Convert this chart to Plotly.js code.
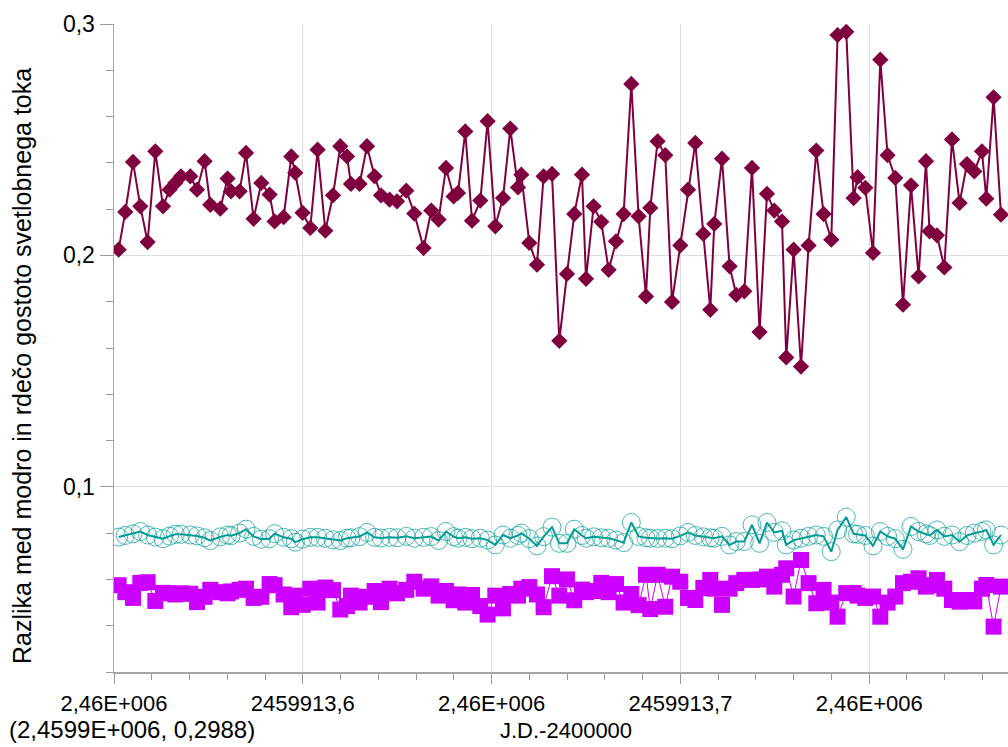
<!DOCTYPE html>
<html>
<head>
<meta charset="utf-8">
<script src="https://cdn.plot.ly/plotly-3.0.1.min.js"></script>
<style>
  html, body { margin: 0; padding: 0; background: #ffffff; }
  #chart { width: 1008px; height: 747px; }
</style>
</head>
<body>
<div id="chart"></div>
<script>
// Observation times (J.D.)
const jd = [
  2459913.55122, 2459913.55299, 2459913.55503, 2459913.55697, 2459913.55890, 2459913.56094,
  2459913.56298, 2459913.56472, 2459913.56623, 2459913.56774, 2459913.57021, 2459913.57198,
  2459913.57399, 2459913.57550, 2459913.57815, 2459913.58008, 2459913.58099, 2459913.58326,
  2459913.58496, 2459913.58697, 2459913.58901, 2459913.59121, 2459913.59253, 2459913.59492,
  2459913.59695, 2459913.59801, 2459913.59995, 2459913.60199, 2459913.60392, 2459913.60596,
  2459913.60800, 2459913.60993, 2459913.61171, 2459913.61276, 2459913.61504, 2459913.61700,
  2459913.61901, 2459913.62071, 2459913.62299, 2459913.62495, 2459913.62741, 2459913.62953,
  2459913.63199, 2459913.63403, 2459913.63596, 2459913.63792, 2459913.63994, 2459913.64110,
  2459913.64303, 2459913.64481, 2459913.64701, 2459913.64894, 2459913.65098, 2459913.65302,
  2459913.65495, 2459913.65699, 2459913.65787, 2459913.65999, 2459913.66202, 2459913.66377,
  2459913.66600, 2459913.66793, 2459913.66997, 2459913.67190, 2459913.67394, 2459913.67500,
  2459913.67701, 2459913.67905, 2459913.68099, 2459913.68294, 2459913.68496, 2459913.68700,
  2459913.68893, 2459913.69089, 2459913.69203, 2459913.69396, 2459913.69600, 2459913.69778,
  2459913.69997, 2459913.70201, 2459913.70395, 2459913.70607, 2459913.70792, 2459913.70898,
  2459913.71102, 2459913.71303, 2459913.71480, 2459913.71692, 2459913.71896, 2459913.72097,
  2459913.72293, 2459913.72487, 2459913.72691, 2459913.72804, 2459913.72998, 2459913.73194,
  2459913.73395, 2459913.73599, 2459913.73792, 2459913.73996, 2459913.74163, 2459913.74393,
  2459913.74587, 2459913.74693, 2459913.74897, 2459913.75101, 2459913.75294, 2459913.75487,
  2459913.75691, 2459913.75895, 2459913.76107, 2459913.76308, 2459913.76504, 2459913.76599,
  2459913.76795, 2459913.76989, 2459913.77193, 2459913.77394, 2459913.77590, 2459913.77784,
  2459913.77987, 2459913.78101, 2459913.78294, 2459913.78490
];

// Colour difference, first comparison pair
const diffA = [
  0.2025, 0.2188, 0.2404, 0.2212, 0.2058, 0.2450, 0.2212, 0.2284, 0.2313, 0.2342, 0.2342, 0.2284,
  0.2407, 0.2219, 0.2202, 0.2332, 0.2277, 0.2277, 0.2443, 0.2158, 0.2313, 0.2263, 0.2147, 0.2165,
  0.2428, 0.2357, 0.2184, 0.2119, 0.2457, 0.2107, 0.2260, 0.2472, 0.2428, 0.2309, 0.2309, 0.2472,
  0.2342, 0.2260, 0.2241, 0.2234, 0.2280, 0.2181, 0.2032, 0.2194, 0.2155, 0.2378, 0.2255, 0.2270,
  0.2536, 0.2150, 0.2237, 0.2580, 0.2126, 0.2248, 0.2548, 0.2294, 0.2349, 0.2054, 0.1960, 0.2342,
  0.2352, 0.1631, 0.1920, 0.2179, 0.2349, 0.1899, 0.2212, 0.2145, 0.1938, 0.2061, 0.2179, 0.2741,
  0.2169, 0.1823, 0.2205, 0.2493, 0.2433, 0.1799, 0.2043, 0.2284, 0.2486, 0.2093, 0.1765, 0.2136,
  0.2418, 0.1953, 0.1830, 0.1845, 0.2378, 0.1669, 0.2266, 0.2194, 0.2147, 0.1559, 0.2025, 0.1520,
  0.2043, 0.2453, 0.2179, 0.2068, 0.2952, 0.2966, 0.2248, 0.2338, 0.2292, 0.2011, 0.2846, 0.2433,
  0.2335, 0.1787, 0.2303, 0.1909, 0.2407, 0.2104, 0.2087, 0.1948, 0.2501, 0.2227, 0.2395, 0.2363,
  0.2450, 0.2245, 0.2683, 0.2176
];

// Colour difference, comparison star
const diffB = [
  0.0783, 0.0790, 0.0797, 0.0807, 0.0792, 0.0783, 0.0776, 0.0787, 0.0795, 0.0795, 0.0792, 0.0788,
  0.0780, 0.0768, 0.0784, 0.0792, 0.0789, 0.0800, 0.0817, 0.0786, 0.0774, 0.0776, 0.0798, 0.0782,
  0.0776, 0.0761, 0.0774, 0.0782, 0.0782, 0.0778, 0.0771, 0.0768, 0.0778, 0.0780, 0.0785, 0.0803,
  0.0782, 0.0779, 0.0782, 0.0780, 0.0786, 0.0778, 0.0782, 0.0785, 0.0768, 0.0807, 0.0785, 0.0778,
  0.0782, 0.0776, 0.0778, 0.0770, 0.0749, 0.0792, 0.0778, 0.0790, 0.0800, 0.0776, 0.0745, 0.0785,
  0.0826, 0.0756, 0.0756, 0.0817, 0.0790, 0.0778, 0.0784, 0.0780, 0.0778, 0.0770, 0.0759, 0.0846,
  0.0786, 0.0780, 0.0778, 0.0777, 0.0778, 0.0776, 0.0788, 0.0803, 0.0790, 0.0784, 0.0780, 0.0778,
  0.0786, 0.0749, 0.0764, 0.0764, 0.0836, 0.0756, 0.0846, 0.0803, 0.0810, 0.0749, 0.0770, 0.0778,
  0.0786, 0.0792, 0.0786, 0.0720, 0.0814, 0.0869, 0.0797, 0.0795, 0.0790, 0.0745, 0.0807, 0.0786,
  0.0776, 0.0730, 0.0829, 0.0807, 0.0797, 0.0790, 0.0814, 0.0786, 0.0792, 0.0763, 0.0790, 0.0800,
  0.0807, 0.0814, 0.0749, 0.0792
];

// Colour difference, check star
const diffC = [
  0.0575, 0.0545, 0.0520, 0.0585, 0.0588, 0.0507, 0.0542, 0.0540, 0.0535, 0.0540, 0.0538, 0.0502,
  0.0525, 0.0555, 0.0545, 0.0540, 0.0548, 0.0555, 0.0560, 0.0520, 0.0525, 0.0580, 0.0575, 0.0535,
  0.0480, 0.0530, 0.0490, 0.0560, 0.0500, 0.0565, 0.0554, 0.0470, 0.0485, 0.0530, 0.0500, 0.0525,
  0.0550, 0.0502, 0.0560, 0.0540, 0.0555, 0.0590, 0.0560, 0.0570, 0.0530, 0.0550, 0.0510, 0.0535,
  0.0500, 0.0533, 0.0485, 0.0448, 0.0530, 0.0475, 0.0537, 0.0530, 0.0560, 0.0567, 0.0535, 0.0480,
  0.0614, 0.0530, 0.0600, 0.0510, 0.0556, 0.0545, 0.0550, 0.0585, 0.0545, 0.0580, 0.0500, 0.0537,
  0.0489, 0.0620, 0.0472, 0.0620, 0.0482, 0.0612, 0.0590, 0.0520, 0.0511, 0.0563, 0.0598, 0.0560,
  0.0490, 0.0560, 0.0584, 0.0598, 0.0598, 0.0600, 0.0612, 0.0569, 0.0620, 0.0648, 0.0526, 0.0684,
  0.0584, 0.0497, 0.0555, 0.0500, 0.0439, 0.0541, 0.0541, 0.0530, 0.0520, 0.0526, 0.0439, 0.0500,
  0.0526, 0.0584, 0.0590, 0.0605, 0.0569, 0.0575, 0.0598, 0.0560, 0.0511, 0.0504, 0.0511, 0.0505,
  0.0560, 0.0576, 0.0396, 0.0569
];

// Axis ticks and labels
const xTickVals = [2459913.55, 2459913.60, 2459913.65, 2459913.70, 2459913.75];
const xTickText = ['2,46E+006', '2459913,6', '2,46E+006', '2459913,7', '2,46E+006'];
const yTickVals = [0.1, 0.2, 0.3];
const yTickText = ['0,1', '0,2', '0,3'];

const xRange = [2459913.55, 2459913.78676];
const yRange = [0.02, 0.3];

const yTitle = 'Razlika med modro in rdečo gostoto svetlobnega toka';
const xTitle = 'J.D.-2400000';
const cursorText = '(2,4599E+006, 0,2988)';

const FONT = 'Liberation Sans, Arial, sans-serif';

const traces = [
  {
    x: jd, y: diffC, type: 'scatter', mode: 'lines+markers',
    line: { color: '#cc00ff', width: 1 },
    marker: { symbol: 'square', size: 16, color: '#cc00ff' },
    hoverinfo: 'x+y'
  },
  {
    x: jd, y: diffB, type: 'scatter', mode: 'lines+markers',
    line: { color: '#009b96', width: 2 },
    marker: { symbol: 'circle-open', size: 18, color: 'rgba(0,155,150,0.7)', line: { width: 1, color: 'rgba(0,160,155,0.7)' } },
    hoverinfo: 'x+y'
  },
  {
    x: jd, y: diffA, type: 'scatter', mode: 'lines+markers',
    line: { color: '#7f003f', width: 2 },
    marker: { symbol: 'diamond', size: 12.5, color: '#7f003f' },
    hoverinfo: 'x+y'
  }
];

const layout = {
  width: 1008,
  height: 747,
  margin: { l: 114, r: 0, t: 24, b: 75 },
  paper_bgcolor: '#ffffff',
  plot_bgcolor: '#ffffff',
  showlegend: false,
  font: { family: FONT, color: '#000000', size: 22 },
  xaxis: {
    range: xRange,
    tickmode: 'array',
    tickvals: xTickVals,
    ticktext: xTickText,
    ticks: 'outside',
    ticklen: 10,
    tickwidth: 1,
    tickcolor: '#9a9a9a',
    ticklabelstandoff: 1,
    tickfont: { family: FONT, size: 22, color: '#000000' },
    showline: true,
    linecolor: '#a6a6a6',
    linewidth: 1.5,
    showgrid: true,
    gridcolor: '#dedede',
    gridwidth: 1,
    zeroline: false,
    minor: {
      tickmode: 'linear',
      tick0: 2459913.55,
      dtick: 0.01,
      ticks: 'outside',
      ticklen: 6,
      tickcolor: '#9a9a9a',
      tickwidth: 1,
      showgrid: false
    }
  },
  yaxis: {
    range: yRange,
    tickmode: 'array',
    tickvals: yTickVals,
    ticktext: yTickText,
    ticks: 'outside',
    ticklen: 13,
    tickwidth: 1,
    tickcolor: '#9a9a9a',
    tickfont: { family: FONT, size: 23, color: '#000000' },
    showline: true,
    linecolor: '#a6a6a6',
    linewidth: 1.5,
    showgrid: true,
    gridcolor: '#dedede',
    gridwidth: 1,
    zeroline: false,
    minor: {
      tickmode: 'linear',
      tick0: 0,
      dtick: 0.02,
      ticks: 'outside',
      ticklen: 7,
      tickcolor: '#9a9a9a',
      tickwidth: 1,
      showgrid: false
    }
  },
  annotations: [
    {
      text: yTitle, xref: 'paper', yref: 'paper',
      x: -0.1029, y: 0.4722, xanchor: 'center', yanchor: 'middle',
      textangle: -90, showarrow: false,
      font: { family: FONT, size: 25, color: '#000000' }
    },
    {
      text: xTitle, xref: 'paper', yref: 'paper',
      x: 0.5056, y: -0.1125, xanchor: 'center', yanchor: 'bottom',
      showarrow: false,
      font: { family: FONT, size: 22, color: '#000000' }
    },
    {
      text: cursorText, xref: 'paper', yref: 'paper',
      x: -0.1197, y: -0.0880, xanchor: 'left', yanchor: 'middle',
      showarrow: false,
      font: { family: FONT, size: 24, color: '#000000' }
    }
  ]
};

Plotly.newPlot('chart', traces, layout, { staticPlot: true, displayModeBar: false });
</script>
</body>
</html>
